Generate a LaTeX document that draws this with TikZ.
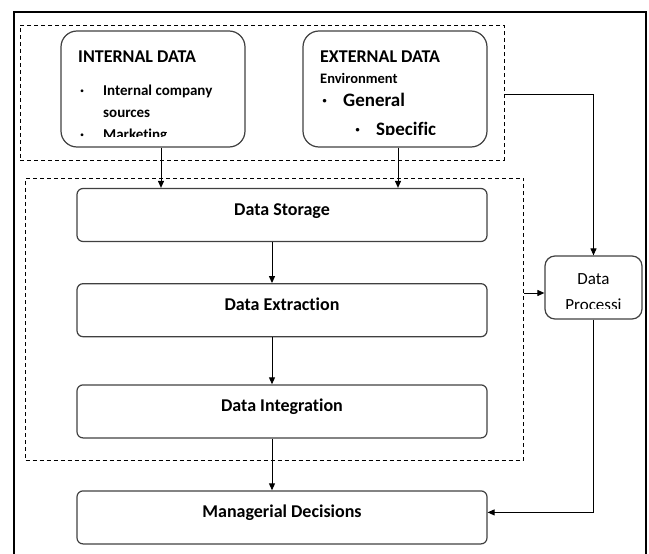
\documentclass[tikz,border=0pt]{standalone}
\usepackage{fontspec}
\setmainfont{Carlito}[Ligatures=CommonOff]
\usetikzlibrary{arrows.meta,positioning}
\tikzset{
    %Define standard arrow tip
    >={Triangle[length=7pt,width=6pt]},
    %Define style for source boxes
    srcbox/.style={
           rectangle,
           rounded corners=16pt,
           draw=black!75, line width=1.2pt,
           minimum width=184pt,
           minimum height=116pt},
    %Define style for stage boxes
    stagebox/.style={
           rectangle,
           rounded corners=6pt,
           draw=black!75, line width=1.2pt,
           minimum width=410pt,
           minimum height=53pt,
           font=\fontsize{18}{21}\selectfont\bfseries,
           text height=12pt,
           text depth=11pt},
    % Define style for dashed groups
    grouprect/.style={
           rectangle,
           draw, dashed,
           dash pattern=on 4pt off 3pt,
           line width=1pt,
           inner sep=0pt},
    % Define style for text lines
    txt/.style={anchor=base west, inner sep=0pt},
    % Define arrow style
    pil/.style={
           ->,
           line width=1pt}
}
\begin{document}
\begin{tikzpicture}[x=1pt,y=-1pt,node distance=41pt]
    \useasboundingbox (0,0) rectangle (649,554);
    % outer frame
    \draw[line width=1.8pt] (14,556) -- (14,12) -- (646,12) -- (646,556);
    % groups
    \node (sources) [grouprect,minimum width=484pt,minimum height=135pt]
          at (262,92.5) {};
    \node (pipeline) [grouprect,minimum width=498pt,minimum height=282pt]
          at (274.5,319) {};
    % data sources
    \node (internal) [srcbox] at (153,89) {};
    \node (external) [srcbox] at (395,89) {};
    \begin{scope}
      \clip (61,31) rectangle (245,136);
      \node (inttitle) [txt,font=\fontsize{18}{21}\selectfont\bfseries]
            at (78,62) {INTERNAL DATA};
      \begin{scope}[every node/.style={txt,font=\fontsize{15}{18}\selectfont\bfseries}]
        \node (intdota) at (80,95) {·};
        \node (intitema) at (103,95) {Internal company};
        \node (intitemb) at (103,117) {sources};
        \node (intdotc) at (80,139) {·};
        \node (intitemc) at (103,139) {Marketing};
      \end{scope}
    \end{scope}
    \begin{scope}
      \clip (303,31) rectangle (487,134);
      \node (exttitle) [txt,font=\fontsize{18}{21}\selectfont\bfseries]
            at (320,62) {EXTERNAL DATA};
      \node (extenv) [txt,font=\fontsize{14.5}{17}\selectfont\bfseries]
            at (320,83) {Environment};
      \begin{scope}[every node/.style={txt,font=\fontsize{19}{22}\selectfont\bfseries}]
        \node (extdota) at (322,106) {·};
        \node (extitema) at (343,106) {General};
        \node (extdotb) at (355,135) {·};
        \node (extitemb) at (376,135) {Specific};
      \end{scope}
    \end{scope}
    % pipeline stages
    \node (storage) [stagebox] at (282,215) {Data Storage};
    \node (extract) [stagebox] [below=of storage] {Data Extraction};
    \node (integr) [stagebox] [below=of extract,yshift=-6pt] {Data Integration};
    \node (decision) [stagebox] [below=of integr,yshift=-10.8pt] {Managerial Decisions};
    % processing
    \node (process) [rectangle,rounded corners=10pt,draw=black!75,line width=1.2pt,
          minimum width=97pt,minimum height=63pt] at (593.5,287.5) {};
    \begin{scope}
      \clip (546,257) rectangle (641,308);
      \node (proctext) [inner sep=0pt,anchor=base,font=\fontsize{17}{20}\selectfont]
            at (593.5,284) {Data};
      \node (proctextb) [inner sep=0pt,anchor=base,font=\fontsize{17}{20}\selectfont]
            at (593.5,310) {Processi};
    \end{scope}
    % connectors
    \draw[pil] ([xshift=8pt]internal.south) -- ([xshift=8pt]internal.south |- storage.north);
    \draw[pil] ([xshift=3pt]external.south) -- ([xshift=3pt]external.south |- storage.north);
    \draw[pil] ([xshift=-10pt]storage.south) -- ([xshift=-10pt]storage.south |- extract.north);
    \draw[pil] ([xshift=-10pt]extract.south) -- ([xshift=-10pt]extract.south |- integr.north);
    \draw[pil] ([xshift=-10pt]integr.south) -- ([xshift=-10pt]integr.south |- decision.north);
    \draw[pil] ([yshift=-1.5pt]sources.east) -| (process.north);
    \draw[pil] ([yshift=-5.5pt]process.west -| pipeline.east) -- ([yshift=-5.5pt]process.west);
    \draw[pil] (process.south) |- ([yshift=5pt]decision.east);
\end{tikzpicture}
\end{document}
